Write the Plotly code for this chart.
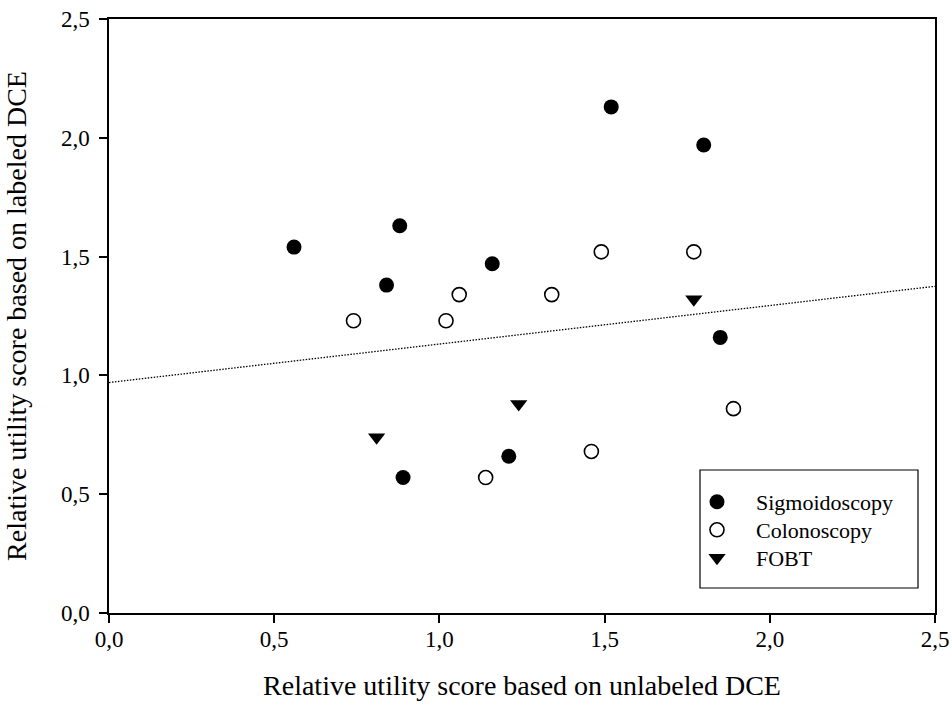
import plotly.graph_objects as go

# Data
sig_x = [0.56, 0.88, 1.16, 0.84, 1.52, 1.80, 1.85, 1.21, 0.89]
sig_y = [1.54, 1.63, 1.47, 1.38, 2.13, 1.97, 1.16, 0.66, 0.57]
col_x = [0.74, 1.02, 1.06, 1.34, 1.49, 1.77, 1.46, 1.14, 1.89]
col_y = [1.23, 1.23, 1.34, 1.34, 1.52, 1.52, 0.68, 0.57, 0.86]
fobt_x = [1.77, 1.24, 0.81]
fobt_y = [1.32, 0.88, 0.74]
trend_x = [0.0, 2.5]
trend_y = [0.97, 1.375]
tick_vals = [0.0, 0.5, 1.0, 1.5, 2.0, 2.5]

FONT = "Liberation Serif"

L, R, T, B = 109, 17, 19, 98
W, H = 952, 711
PW, PH = W - L - R, H - T - B


def px_x(x):
    return (x - L) / PW


def px_y(y):
    return (H - B - y) / PH


fig = go.Figure()
fig.add_trace(go.Scatter(x=trend_x, y=trend_y, mode="lines", showlegend=False,
                         line=dict(color="black", width=1.3, dash="1.5px,1.5px"),
                         hoverinfo="skip"))
fig.add_trace(go.Scatter(x=sig_x, y=sig_y, mode="markers", name="Sigmoidoscopy",
                         legend="legend",
                         marker=dict(symbol="circle", size=15, color="black",
                                     line=dict(width=0))))
fig.add_trace(go.Scatter(x=col_x, y=col_y, mode="markers", name="Colonoscopy",
                         legend="legend2",
                         marker=dict(symbol="circle-open", size=14, color="black",
                                     line=dict(width=1.6, color="black"))))
fig.add_trace(go.Scatter(x=fobt_x, y=fobt_y, mode="markers", name="FOBT",
                         legend="legend3",
                         marker=dict(symbol="triangle-down", size=15, color="black",
                                     line=dict(width=0))))

axis_common = dict(
    range=[0, 2.5], tickvals=tick_vals, tickformat=".1f",
    showgrid=False, zeroline=False, automargin=False,
    showline=True, linecolor="black", linewidth=1.5, mirror=True,
    ticks="outside", ticklen=8, tickwidth=1.5, tickcolor="black",
    tickfont=dict(family=FONT, size=23, color="black"),
)

legend_common = dict(xanchor="left", yanchor="middle",
                     xref="paper", yref="paper",
                     bgcolor="rgba(0,0,0,0)", borderwidth=0,
                     itemwidth=68,
                     font=dict(family=FONT, size=22, color="black"))

fig.update_layout(
    width=W, height=H,
    margin=dict(l=L, r=R, t=T, b=B),
    paper_bgcolor="white", plot_bgcolor="white",
    separators=",.",
    font=dict(family=FONT, color="black"),
    xaxis=dict(**axis_common, ticklabelstandoff=-3,
               title=dict(text="Relative utility score based on unlabeled DCE",
                          font=dict(family=FONT, size=28, color="black"),
                          standoff=24)),
    yaxis=dict(**axis_common, ticklabelstandoff=5,
               title=dict(text="Relative utility score based on labeled DCE",
                          font=dict(family=FONT, size=28, color="black"),
                          standoff=26)),
    legend=dict(**legend_common, x=px_x(678), y=px_y(502)),
    legend2=dict(**legend_common, x=px_x(678), y=px_y(530)),
    legend3=dict(**legend_common, x=px_x(678), y=px_y(558)),
    shapes=[dict(type="rect", xref="paper", yref="paper",
                 x0=px_x(700), x1=px_x(918),
                 y0=px_y(588), y1=px_y(470),
                 line=dict(color="black", width=1.2), fillcolor="white",
                 layer="below")],
)

fig.write_html("out.html",
               config={"displayModeBar": False},
               post_script="document.body.style.margin='0';"
                           "document.body.style.padding='0';"
                           "document.body.style.overflow='hidden';")
